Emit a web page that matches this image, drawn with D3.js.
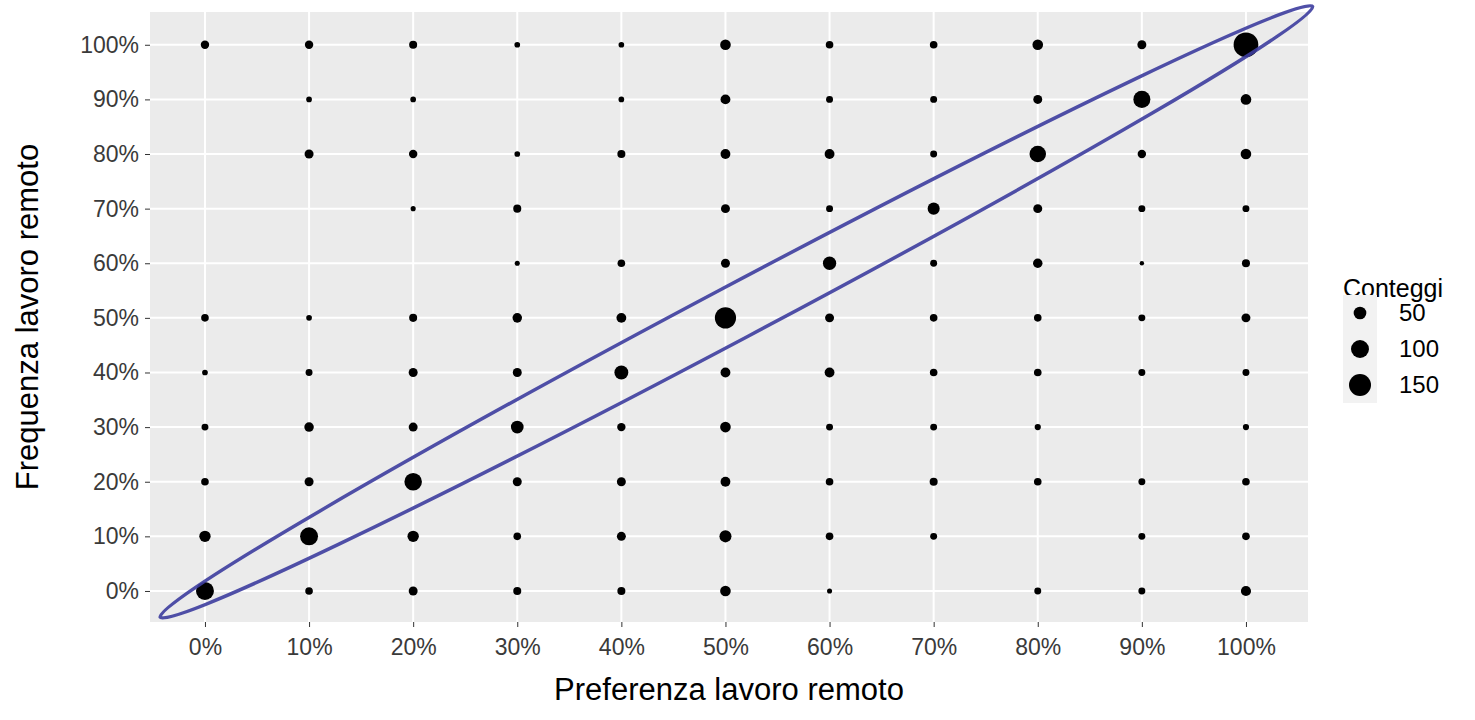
<!DOCTYPE html>
<html><head><meta charset="utf-8">
<script src="https://cdn.jsdelivr.net/npm/d3@7"></script>
<style>body{margin:0;background:#fff;font-family:"Liberation Sans",Arial,sans-serif}</style>
</head><body><svg id="chart" width="1475" height="720"></svg>
<script>
// categories
const levels = [0, 10, 20, 30, 40, 50, 60, 70, 80, 90, 100];
// counts per row (frequenza), columns = preferenza 0..100; null = no point
const counts = {
  100: [22, 22, 20, 10, 10, 35, 18, 18, 35, 25, 190],
  90:  [null, 10, 10, null, 10, 30, 15, 15, 25, 90, 35],
  80:  [null, 25, 22, 10, 20, 30, 30, 15, 85, 22, 35],
  70:  [null, null, 8, 20, null, 25, 15, 45, 25, 15, 15],
  60:  [null, null, null, 8, 18, 25, 55, 15, 28, 6, 20],
  50:  [18, 10, 20, 28, 30, 140, 25, 18, 18, 15, 25],
  40:  [10, 15, 25, 25, 60, 30, 30, 18, 18, 15, 15],
  30:  [15, 28, 25, 50, 22, 35, 15, 15, 12, null, 12],
  20:  [18, 25, 95, 25, 25, 30, 18, 20, 18, 15, 18],
  10:  [40, 100, 40, 18, 25, 45, 18, 15, null, 15, 18],
  0:   [100, 18, 25, 20, 20, 35, 8, null, 15, 15, 32]
};
const legendValues = [50, 100, 150];
// ellipse ends (data units, %)
const ellipseEnds = [[-4.3, -4.8], [106.4, 107]];

const points = [];
levels.forEach(fy => counts[fy].forEach((n, i) => { if (n != null) points.push({x: levels[i], y: fy, n}); }));

const svg = d3.select("#chart");
const x = d3.scaleLinear().domain([-5.28, 105.96]).range([150, 1308]);
const y = d3.scaleLinear().domain([-5.68, 106]).range([622, 12]);
const r = d3.scaleSqrt().domain([0, 150]).range([0, 11]);

svg.append("rect").attr("x", 150).attr("y", 12).attr("width", 1158).attr("height", 610).attr("fill", "#ebebeb");
const grid = svg.append("g").attr("stroke", "#fff").attr("stroke-width", 2);
grid.selectAll(".gx").data(levels).join("line").attr("x1", d => x(d)).attr("x2", d => x(d)).attr("y1", 12).attr("y2", 622);
grid.selectAll(".gy").data(levels).join("line").attr("y1", d => y(d)).attr("y2", d => y(d)).attr("x1", 150).attr("x2", 1308);

const fmt = d => d + "%";
const xAxis = svg.append("g").attr("transform", "translate(0,622)")
  .call(d3.axisBottom(x).tickValues(levels).tickFormat(fmt).tickSize(5).tickPadding(8));
const yAxis = svg.append("g").attr("transform", "translate(150,0)")
  .call(d3.axisLeft(y).tickValues(levels).tickFormat(fmt).tickSize(5).tickPadding(6));
[xAxis, yAxis].forEach(a => {
  a.select(".domain").remove();
  a.selectAll("line").attr("stroke", "#333");
  a.selectAll("text").attr("fill", "#3a3a3a").style("font-size", "23px").style("font-family", "Liberation Sans, Arial");
});
xAxis.selectAll("text").attr("dy", "0.85em");

svg.selectAll(".pt").data(points).join("circle")
  .attr("cx", d => x(d.x)).attr("cy", d => y(d.y)).attr("r", d => r(d.n)).attr("fill", "#000");

// ellipse
const p0 = [x(ellipseEnds[0][0]), y(ellipseEnds[0][1])], p1 = [x(ellipseEnds[1][0]), y(ellipseEnds[1][1])];
const cx = (p0[0] + p1[0]) / 2, cy = (p0[1] + p1[1]) / 2;
const a = Math.hypot(p1[0] - p0[0], p1[1] - p0[1]) / 2;
const ang = Math.atan2(p1[1] - p0[1], p1[0] - p0[0]) * 180 / Math.PI;
svg.append("ellipse").attr("cx", cx).attr("cy", cy).attr("rx", a).attr("ry", 27)
  .attr("transform", `rotate(${ang},${cx},${cy})`)
  .attr("fill", "none").attr("stroke", "#3d3d9e").attr("stroke-width", 3.5).attr("opacity", 0.9);

svg.append("text").attr("x", 729).attr("y", 700).attr("text-anchor", "middle")
  .style("font-size", "31px").text("Preferenza lavoro remoto");
svg.append("text").attr("transform", "translate(38,317) rotate(-90)").attr("text-anchor", "middle")
  .style("font-size", "31px").text("Frequenza lavoro remoto");

// legend
svg.append("text").attr("x", 1343).attr("y", 297).style("font-size", "25px").text("Conteggi");
const lg = svg.selectAll(".lg").data(legendValues).join("g")
  .attr("transform", (d, i) => `translate(1343,${295 + i * 36})`);
lg.append("rect").attr("width", 34).attr("height", 36).attr("fill", "#f2f2f2");
lg.append("circle").attr("cx", 17).attr("cy", 18).attr("r", d => r(d)).attr("fill", "#000");
lg.append("text").attr("x", 56).attr("y", 26).style("font-size", "24px").text(d => d);
</script></body></html>
